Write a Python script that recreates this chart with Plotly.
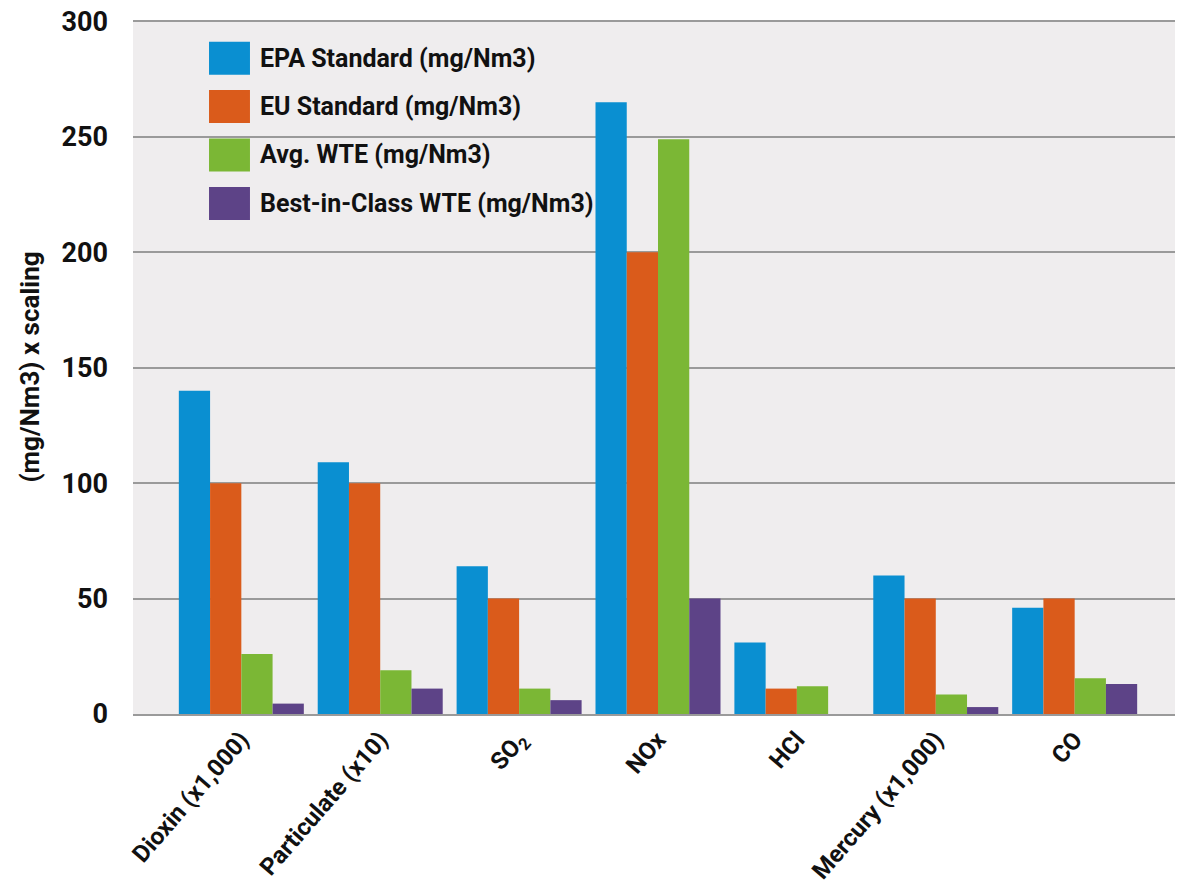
import plotly.graph_objects as go

categories = ["Dioxin (x1,000)", "Particulate (x10)", "SO<sub>2</sub>", "NOx", "HCl",
              "Mercury (x1,000)", "CO"]
series_names = ["EPA Standard (mg/Nm3)", "EU Standard (mg/Nm3)", "Avg. WTE (mg/Nm3)",
                "Best-in-Class WTE (mg/Nm3)"]
epa = [140, 109, 64, 265, 31, 60, 46]
eu = [100, 100, 50, 200, 11, 50, 50]
avg_wte = [26, 19, 11, 249, 12, 8.5, 15.5]
best_wte = [4.5, 11, 6, 50, 0, 3, 13]
y_ticks = [0, 50, 100, 150, 200, 250, 300]
y_title = "(mg/Nm3) x scaling"

colors = ["#0a8fd1", "#da5b1b", "#7bb735", "#5d4387"]
FONT = "Roboto, Lato, sans-serif"

fig = go.Figure()
for name, vals, col in zip(series_names, [epa, eu, avg_wte, best_wte], colors):
    fig.add_trace(go.Bar(x=categories, y=vals, name=name, marker=dict(color=col, line=dict(width=0)),
                         showlegend=False))

# manual legend with large swatches
row_y = [0.945, 0.8754, 0.8055, 0.7356]
half_h = 0.0238
for name, col, yc in zip(series_names, colors, row_y):
    fig.add_shape(type="rect", xref="paper", yref="paper", x0=0.0724, x1=0.1114,
                  y0=yc - half_h, y1=yc + half_h, fillcolor=col, line=dict(width=0), layer="above")
    fig.add_annotation(xref="paper", yref="paper", x=0.119, y=yc, text=name, showarrow=False,
                       xanchor="left", yanchor="middle",
                       font=dict(family=FONT, size=25, color="#111111", weight="bold"))

fig.update_layout(
    width=1175, height=878,
    margin=dict(l=125, r=0, t=12, b=172),
    paper_bgcolor="white",
    plot_bgcolor="#efedee",
    barmode="group",
    bargap=0.1,
    bargroupgap=0,
    font=dict(family=FONT, size=27, color="#111111", weight="bold"),
    xaxis=dict(
        type="category", range=[-0.78, 6.78], tickangle=-49, automargin=False,
        showgrid=False, showline=True, linecolor="#9a9a9a", linewidth=2,
        ticks="", tickfont=dict(family=FONT, size=24, weight="bold"),
        ticklabeloverflow="allow",
    ),
    yaxis=dict(
        range=[0, 300.6], tickvals=y_ticks, showgrid=True, gridcolor="#9a9a9a", gridwidth=2,
        zeroline=False, showline=False, ticks="", ticklabelstandoff=24, automargin=False,
        tickfont=dict(family=FONT, size=27, weight="bold"),
        ticklabeloverflow="allow",
        title=dict(text=y_title, font=dict(family=FONT, size=26, weight="bold"), standoff=14),
    ),
)

fig.write_html("out.html")
